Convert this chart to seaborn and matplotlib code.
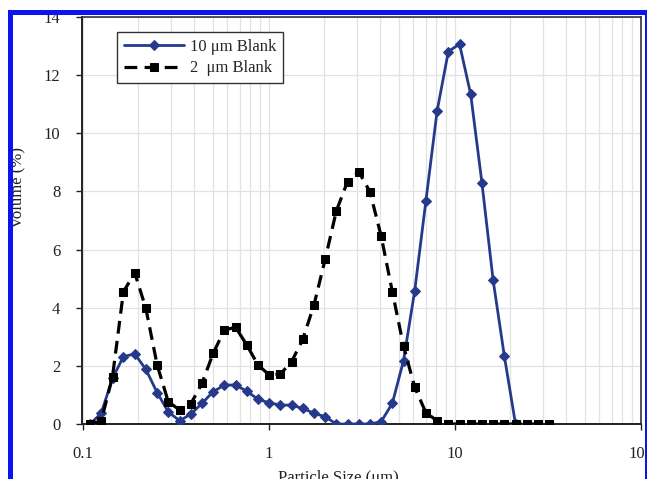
import matplotlib
matplotlib.use("Agg")
import matplotlib.pyplot as plt
from matplotlib.patches import Rectangle
from matplotlib.ticker import LogLocator, FixedLocator, NullFormatter
import seaborn as sns
import pandas as pd

# ---- data ----
sizes = [0.110, 0.126, 0.145, 0.166, 0.191, 0.219, 0.252, 0.289, 0.333, 0.382,
         0.439, 0.504, 0.579, 0.665, 0.764, 0.878, 1.008, 1.158, 1.330, 1.528,
         1.755, 2.016, 2.316, 2.660, 3.056, 3.510, 4.032, 4.632, 5.320, 6.112,
         7.020, 8.064, 9.263, 10.64, 12.22, 14.04, 16.13, 18.53, 21.28, 24.45,
         28.08, 32.26]

blank_10um = [0.0, 0.37, 1.57, 2.32, 2.41, 1.88, 1.08, 0.42, 0.11, 0.34,
              0.71, 1.11, 1.34, 1.34, 1.13, 0.85, 0.73, 0.65, 0.65, 0.54,
              0.37, 0.25, 0.0, 0.0, 0.0, 0.0, 0.08, 0.71, 2.18, 4.59,
              7.68, 10.77, 12.81, 13.07, 11.34, 8.30, 4.95, 2.34, 0.0]

blank_2um = [0.0, 0.1, 1.63, 4.55, 5.2, 3.98, 2.03, 0.77, 0.48, 0.69,
             1.4, 2.43, 3.23, 3.33, 2.72, 2.03, 1.69, 1.72, 2.14, 2.91,
             4.09, 5.66, 7.33, 8.34, 8.68, 7.99, 6.47, 4.55, 2.68, 1.26,
             0.39, 0.11, 0.0, 0.0, 0.0, 0.0, 0.0, 0.0, 0.0, 0.0,
             0.0, 0.0]

series_labels = ["10 \u03bcm Blank", "2  \u03bcm Blank"]
x_ticks = [0.1, 1, 10, 100]
x_ticklabels = ["0.1", "1", "10", "100"]
y_ticks = [0, 2, 4, 6, 8, 10, 12, 14]

df10 = pd.DataFrame({"size": sizes[:len(blank_10um)], "vol": blank_10um})
df2 = pd.DataFrame({"size": sizes[:len(blank_2um)], "vol": blank_2um})

# ---- style ----
sns.set_style("white")
plt.rcParams["font.family"] = ["Liberation Serif", "DejaVu Serif"]
plt.rcParams["mathtext.fontset"] = "stix"

W, H = 647, 479
fig = plt.figure(figsize=(W / 100, H / 100), dpi=100)
fig.patch.set_facecolor("white")
ax_l, ax_r, ax_t, ax_b = 82.5, 640.5, 17, 424
ax = fig.add_axes([ax_l / W, 1 - ax_b / H, (ax_r - ax_l) / W, (ax_b - ax_t) / H])

blue = "#263a8c"

sns.lineplot(data=df10, x="size", y="vol", ax=ax, color=blue, lw=2.0,
             marker="D", markersize=4.6, markeredgecolor=blue, sort=False,
             errorbar=None, label=series_labels[0], zorder=3)
sns.lineplot(data=df2, x="size", y="vol", ax=ax, color="black", lw=2.3,
             marker="s", markersize=5.5, markeredgecolor="black", sort=False,
             errorbar=None, label=series_labels[1], zorder=4,
             linestyle=(0, (4, 2.3)))

ax.set_xscale("log")
ax.set_xlim(0.1, 100)
ax.set_ylim(0, 14)

ax.xaxis.set_major_locator(FixedLocator(x_ticks))
ax.set_xticklabels(x_ticklabels)
ax.xaxis.set_minor_locator(LogLocator(base=10, subs=range(2, 10), numticks=20))
ax.xaxis.set_minor_formatter(NullFormatter())
ax.set_yticks(y_ticks)
ax.set_yticklabels([str(v) for v in y_ticks])

ax.grid(True, which="major", axis="both", color="#e2e2e2", lw=0.9, zorder=0)
ax.grid(True, which="minor", axis="x", color="#e2e2e2", lw=0.9, zorder=0)
ax.set_axisbelow(True)

ax.tick_params(axis="y", which="major", direction="out", length=4, width=1,
               labelsize=12, pad=12, colors="#222222", left=True)
ax.tick_params(axis="x", which="major", direction="out", length=4, width=1,
               labelsize=12, pad=12, colors="#222222", bottom=True)
ax.tick_params(axis="x", which="minor", length=0)

for side in ["left", "bottom"]:
    ax.spines[side].set_color("#222222")
    ax.spines[side].set_linewidth(1.4)
for side in ["top", "right"]:
    ax.spines[side].set_color("#333333")
    ax.spines[side].set_linewidth(1.2)

ax.set_xlabel("Particle Size (\u03bcm)", fontsize=12, color="#222222")
ax.set_ylabel("Volume (%)", fontsize=12, color="#222222")
ax.xaxis.set_label_coords((338 - ax_l) / (ax_r - ax_l), (ax_b - 470) / (ax_b - ax_t))
ax.yaxis.set_label_coords((17 - ax_l) / (ax_r - ax_l), (ax_b - 188) / (ax_b - ax_t))
ax.xaxis.label.set_va("top")
ax.yaxis.label.set_va("center")

leg = ax.legend(loc="upper left",
                bbox_to_anchor=((117 - ax_l) / (ax_r - ax_l), (ax_b - 32) / (ax_b - ax_t)),
                borderaxespad=0, fontsize=12, handlelength=3.6, handletextpad=0.4,
                labelspacing=0.35, borderpad=0.4, frameon=True, fancybox=False,
                numpoints=1)
leg.get_frame().set_edgecolor("#333333")
leg.get_frame().set_linewidth(1.0)
leg.get_frame().set_alpha(1)

# ---- page frame (white margin + blue border) drawn over the figure ----
def frect(x0, y0, x1, y1, color):
    fig.add_artist(Rectangle((x0 / W, 1 - y1 / H), (x1 - x0) / W, (y1 - y0) / H,
                             transform=fig.transFigure, facecolor=color,
                             edgecolor="none", zorder=20))

frect(0, 0, W, 10, "white")
frect(0, 0, 8, H, "white")
frect(8, 10, W, 15, "#0a14f0")
frect(8, 10, 13, H, "#0a14f0")
frect(645, 10, W, H, "#0a14f0")

fig.savefig("out.png", dpi=100)
